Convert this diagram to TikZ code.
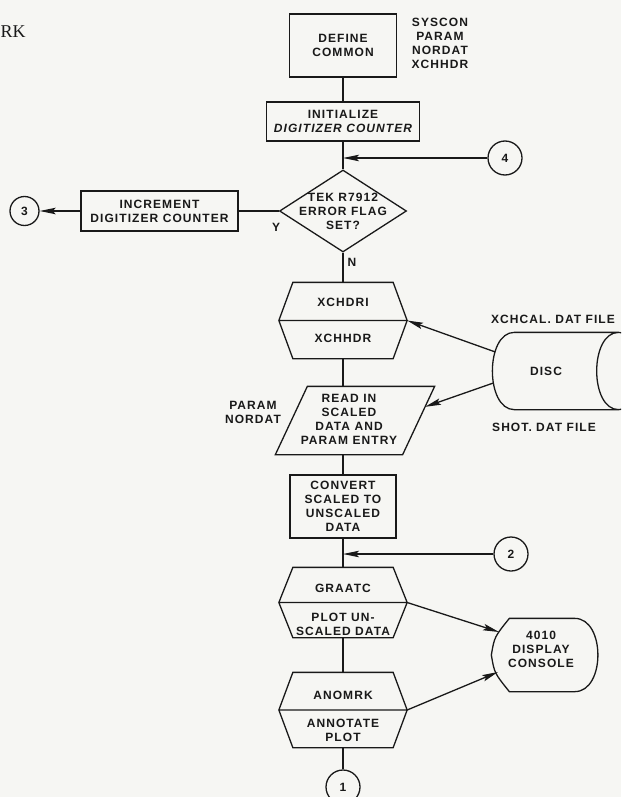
\documentclass[tikz,border=0pt]{standalone}
\usepackage{fontspec}
\usepackage{tikz}
\usetikzlibrary{arrows.meta,shapes.geometric,calc}
\newfontfamily\chartfont[LetterSpace=9]{Liberation Sans}
\newfontfamily\headfont{Liberation Serif}
\definecolor{paper}{RGB}{246,246,243}
\definecolor{ink}{RGB}{25,25,25}

\begin{document}
\begin{tikzpicture}[x=1pt,y=-1pt,>={Stealth[length=16pt,width=6.5pt,inset=3pt]},line width=1.3pt,color=ink,
  every node/.style={font=\chartfont\bfseries\fontsize{12}{14}\selectfont,align=center},
  box/.style={draw,rectangle,inner sep=0pt},
  frame/.style={rectangle,inner sep=0pt},
  connector/.style={draw,circle,minimum size=34pt,inner sep=0pt},
  decision/.style={draw,diamond,minimum width=127pt,minimum height=82pt,inner sep=0pt}]
  \useasboundingbox (0,0) rectangle (621,797);
  \clip (0,0) rectangle (621,797);
  \fill[paper] (0,0) rectangle (621,797);

  \node[font=\headfont\fontsize{18}{20}\selectfont,anchor=base west,inner sep=0pt] (head) at (0,38) {RK};

  \node[box,minimum width=107pt,minimum height=63pt] (define) at (343,45.5) {DEFINE\\COMMON};
  \node (commons) at (440,43) {SYSCON\\PARAM\\NORDAT\\XCHHDR};
  \node[box,minimum width=153pt,minimum height=39pt] (init) at (343,121.5) {INITIALIZE\\{\itshape DIGITIZER COUNTER}};
  \coordinate (m4) at (343,158);
  \node[connector] (c4) at (505,158) {4};
  \node[decision,label={center:TEK R7912\\ERROR FLAG\\SET?}] (test) at (343,211) {};
  \node (yes) at (276,227) {Y};
  \node (no) at (352,262) {N};
  \node[box,minimum width=157pt,minimum height=40pt] (incr) at (159.5,211) {INCREMENT\\DIGITIZER COUNTER};
  \node[connector,minimum size=29pt] (c3) at (24.5,211) {3};

  \node[frame,minimum width=127pt,minimum height=75pt] (xchdr) at (343,320.5) {};
  \node (xchdrA) at (343,302) {XCHDRI};
  \node (xchdrB) at (343,338) {XCHHDR};
  \node[frame,minimum width=158pt,minimum height=67pt] (para) at (355,420.5) {};
  \node (paraT) at (349,419) {READ IN\\SCALED\\DATA AND\\PARAM ENTRY};
  \coordinate (paraR) at ($(para.north east)!0.3!($(para.south east)+(-32,0)$)$);
  \node (paramlist) at (253,412) {PARAM\\NORDAT};

  \node[frame,minimum width=147pt,minimum height=76pt] (disc) at (566.5,371) {};
  \node (discT) at (546,371) {DISC};
  \node (calfile) at (553,319) {XCHCAL. DAT FILE};
  \node (shotfile) at (544,427) {SHOT. DAT FILE};

  \node[box,minimum width=106pt,minimum height=63pt] (convert) at (343,506.5) {CONVERT\\SCALED TO\\UNSCALED\\DATA};
  \coordinate (m2) at (343,554);
  \node[connector] (c2) at (511,554) {2};
  \node[frame,minimum width=127pt,minimum height=69pt] (graatc) at (343,602.5) {};
  \node (graatcA) at (343,588) {GRAATC};
  \node (graatcB) at (343,624) {PLOT UN-\\SCALED DATA};
  \node[frame,minimum width=127pt,minimum height=74pt] (anomrk) at (343,710) {};
  \node (anomrkA) at (343,695) {ANOMRK};
  \node (anomrkB) at (343,730.5) {ANNOTATE\\PLOT};
  \node[connector] (c1) at (343,787) {1};

  \node[frame,minimum width=105pt,minimum height=72pt] (disp) at (544.5,655) {};
  \node (dispT) at (541,649) {4010\\DISPLAY\\CONSOLE};
  \coordinate (dispA) at (499,632);
  \coordinate (dispB) at (498,672);

  % hexagon outlines
  \foreach \h in {xchdr,graatc,anomrk}
    \draw (\h.west) -- ($(\h.north west)+(14,0)$) -- ($(\h.north east)+(-14,0)$) -- (\h.east)
      -- ($(\h.south east)+(-14,0)$) -- ($(\h.south west)+(14,0)$) -- cycle
      (\h.west) -- (\h.east);
  % parallelogram
  \draw (para.south west) -- ($(para.north west)+(32,0)$) -- (para.north east) -- ($(para.south east)+(-32,0)$) -- cycle;
  % disc outline
  \draw ($(disc.north west)+(22,0)$) .. controls ($(disc.north west)+(-7.3,0)$) and ($(disc.south west)+(-7.3,0)$) .. ($(disc.south west)+(22,0)$)
    -- ($(disc.south east)+(-22,0)$) .. controls ($(disc.south east)+(7.3,0)$) and ($(disc.north east)+(7.3,0)$) .. ($(disc.north east)+(-22,0)$)
    .. controls ($(disc.north east)+(-51.3,0)$) and ($(disc.south east)+(-51.3,0)$) .. ($(disc.south east)+(-22,0)$)
    ($(disc.north west)+(22,0)$) -- ($(disc.north east)+(-22,0)$);
  % display outline
  \draw (disp.west) .. controls ($(disp.west)+(3,-18)$) .. ($(disp.north west)+(18,0)$)
    -- ($(disp.north east)+(-23,0)$) .. controls ($(disp.north east)+(8,0)$) and ($(disp.south east)+(8,0)$) .. ($(disp.south east)+(-23,0)$)
    -- ($(disp.south west)+(18,0)$) .. controls ($(disp.west)+(3,18)$) .. (disp.west);

  \path
    (define) edge (init)
    (init) edge (test)
    (test) edge (xchdr)
    (test.west) edge (incr.east)
    (xchdr.south) edge (xchdr.south |- para.north)
    (convert.north |- para.south) edge (convert.north)
    (convert) edge (graatc)
    (graatc) edge (anomrk)
    (anomrk) edge (c1);
  \path[->]
    (c4) edge (m4)
    (incr) edge (c3)
    ($(disc.west)+(3,-19)$) edge (xchdr.east)
    ($(disc.west)+(1,12)$) edge (paraR)
    (c2) edge (m2)
    (graatc.east) edge (dispA)
    (anomrk.east) edge (dispB);
\end{tikzpicture}
\end{document}
